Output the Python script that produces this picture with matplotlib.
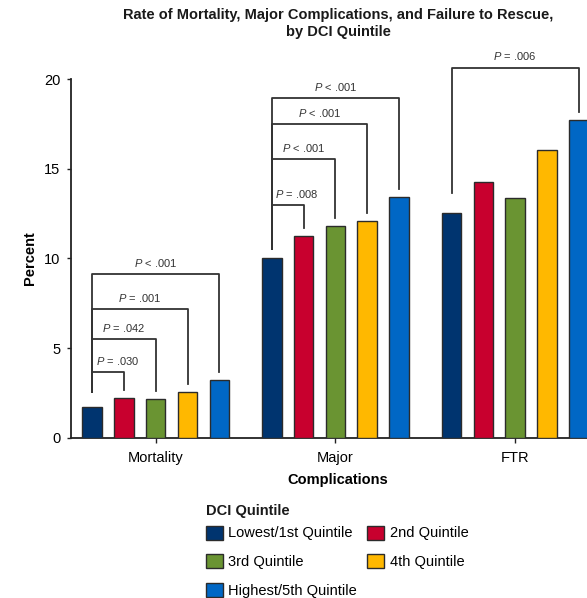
import matplotlib
matplotlib.use("Agg")
import matplotlib.pyplot as plt
from matplotlib.patches import Patch
import numpy as np

plt.rcParams["font.family"] = ["Liberation Sans", "DejaVu Sans"]
plt.rcParams["mathtext.fontset"] = "custom"
plt.rcParams["mathtext.it"] = "Liberation Sans:italic"
plt.rcParams["mathtext.rm"] = "Liberation Sans"

# data
groups = ["Mortality", "Major", "FTR"]
quintiles = ["Lowest/1st Quintile", "2nd Quintile", "3rd Quintile",
             "4th Quintile", "Highest/5th Quintile"]
mortality = [1.73, 2.20, 2.14, 2.53, 3.22]
major = [10.02, 11.27, 11.82, 12.09, 13.44]
ftr = [12.52, 14.26, 13.39, 16.05, 17.74]
colors = ["#00346F", "#C8002E", "#6A9432", "#FFB800", "#0067C5"]

# significance brackets: (group index, compared quintile index, p text)
comparisons = [
    (0, 1, ".030", "="), (0, 2, ".042", "="), (0, 3, ".001", "="), (0, 4, ".001", "<"),
    (1, 1, ".008", "="), (1, 2, ".001", "<"), (1, 3, ".001", "<"), (1, 4, ".001", "<"),
    (2, 4, ".006", "="),
]
# bracket heights (percent units) and left-leg gaps, layout only
bracket_y = [3.66, 5.49, 7.18, 9.13, 12.98, 15.53, 17.48, 18.96, 20.64]
left_gap = [0.84, 0.49, 1.11]

values = np.array([mortality, major, ftr])
step = 0.177
width = 0.1085
x = np.arange(len(groups))

fig = plt.figure(figsize=(5.87, 5.98), dpi=100)
ax = fig.add_axes([70.7 / 587, 0.268, 534.3 / 587, 0.5998])

for i, q in enumerate(quintiles):
    ax.bar(x + (i - 2) * step, values[:, i], width, color=colors[i],
           edgecolor="#2b2b2b", linewidth=1.0, label=q, zorder=3)

line_kw = dict(color="#333333", lw=1.3, clip_on=False, zorder=4)
for (g, j, p, op), yb in zip(comparisons, bracket_y):
    x0 = g + (0 - 2) * step
    x1 = g + (j - 2) * step
    y_left = values[g, 0] + left_gap[g]
    y_right = values[g, j] + 0.45
    ax.plot([x0, x0, x1, x1], [y_left, yb, yb, y_right], **line_kw)
    label = r"$P$ " + op + " " + p
    if j == 1:
        # narrow bracket: text starts just right of the left leg
        ax.text(x0 + 0.02, yb + 0.62, label, ha="left", va="center",
                fontsize=8, color="#333333", clip_on=False)
    else:
        ax.text((x0 + x1) / 2, yb + 0.62, label, ha="center", va="center",
                fontsize=8, color="#333333", clip_on=False)

ax.set_xlim(-0.473, 2.5)
ax.set_ylim(0, 20)
ax.set_yticks([0, 5, 10, 15, 20])
ax.set_xticks(x)
ax.set_xticklabels(groups, fontsize=10.5)
ax.tick_params(axis="y", labelsize=10.5, length=3, width=1.0, pad=4.5, color="#222222")
ax.tick_params(axis="x", length=3.5, width=1.0, pad=6, color="#222222")
for s in ["top", "right"]:
    ax.spines[s].set_visible(False)
for s in ["left", "bottom"]:
    ax.spines[s].set_linewidth(1.3)
    ax.spines[s].set_color("#222222")

ax.set_ylabel("Percent", fontsize=10.5, fontweight="bold", labelpad=5)
ax.set_xlabel("Complications", fontsize=10.5, fontweight="bold", labelpad=5.5)

fig.text(338 / 587, 1 - 8 / 598,
         "Rate of Mortality, Major Complications, and Failure to Rescue,\nby DCI Quintile",
         ha="center", va="top", fontsize=10.5, fontweight="bold",
         linespacing=1.3, color="#1a1a1a")

# legend title drawn separately so the row spacing can match
fig.text(206 / 587, 1 - 511 / 598, "DCI Quintile", ha="left", va="center",
         fontsize=10.5, fontweight="bold", color="#1a1a1a")
handles = [Patch(facecolor=c, edgecolor="#2b2b2b", linewidth=1.0) for c in colors]
order = [0, 2, 4, 1, 3]
ax.legend([handles[k] for k in order], [quintiles[k] for k in order],
          ncols=2, loc="upper left", bbox_to_anchor=(206 / 587, 1 - 525.5 / 598),
          bbox_transform=fig.transFigure, frameon=False, fontsize=10.5,
          borderpad=0, borderaxespad=0, handlelength=1.14,
          handleheight=1.1, handletextpad=0.4, columnspacing=0.7, labelspacing=0.94)

fig.savefig("out.png", dpi=100)
